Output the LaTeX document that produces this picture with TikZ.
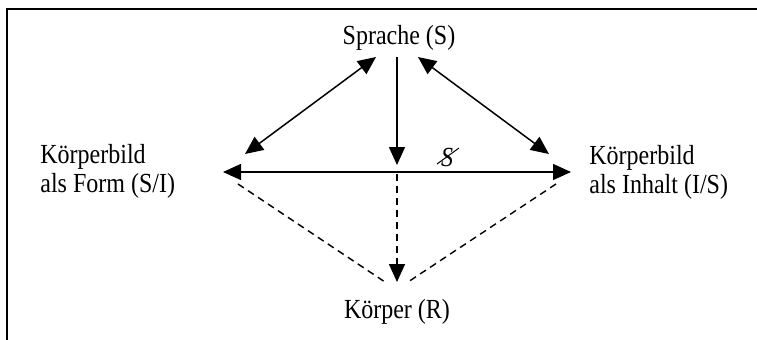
\documentclass[tikz,border=0pt]{standalone}
\usepackage{fontspec}
\setmainfont{Liberation Serif}
\usepackage{graphicx}
\usetikzlibrary{arrows.meta}
\newcommand\vstretch[1]{\scalebox{1}[1.15]{#1}}
\begin{document}
\begin{tikzpicture}[x=0.5pt,y=-0.5pt,
  lbl/.style={inner sep=0pt,font=\fontsize{12}{12.6}\selectfont},
  conn/.style={line width=0.75pt},
  arrowone/.style={-{Triangle[length=9pt,width=8pt]}},
  arrowtwo/.style={{Triangle[length=9pt,width=8pt]}-{Triangle[length=9pt,width=8pt]}},
  dashline/.style={line width=0.7pt,dash pattern=on 3.5pt off 2.5pt}]
\useasboundingbox (0,0) rectangle (757,339);
\draw[line width=0.9pt] (7,345) -- (7,9) -- (765,9);
% nodes
\node[lbl] (S) at (399,38) {\vstretch{Sprache (S)}};
\node[lbl,anchor=west] (L) at (40,172) {\vstretch{\begin{tabular}{@{}l@{}}Körperbild\\als Form (S/I)\end{tabular}}};
\node[lbl,anchor=west] (R) at (589,173) {\vstretch{\begin{tabular}{@{}l@{}}Körperbild\\als Inhalt (I/S)\end{tabular}}};
\node[lbl] (K) at (397,312) {\vstretch{Körper (R)}};
\node[lbl] (X) at (447,157) {\vstretch{\itshape S}};
% coordinates
\coordinate (lu) at (376,57);
\coordinate (ll) at (245,154);
\coordinate (ru) at (418,57);
\coordinate (rl) at (549,154);
\coordinate (vt) at (397,57);
\coordinate (vb) at (397,165);
\coordinate (hl) at (223,172);
\coordinate (hr) at (571,172);
\coordinate (dt) at (397,174);
\coordinate (db) at (397,282);
\coordinate (dl) at (238,184);
\coordinate (dle) at (385,282);
\coordinate (dr) at (556,184);
\coordinate (dre) at (408,282);
\coordinate (xa) at (437,164);
\coordinate (xb) at (459,148);
% connectors
\draw[conn,arrowtwo] (lu) -- (ll);
\draw[conn,arrowtwo] (ru) -- (rl);
\draw[conn,arrowone] (vt) -- (vb);
\draw[conn,arrowtwo] (hl) -- (hr);
\draw[dashline,arrowone] (dt) -- (db);
\draw[dashline] (dl) -- (dle);
\draw[dashline] (dr) -- (dre);
\draw[line width=0.5pt] (xa) -- (xb);
\end{tikzpicture}
\end{document}
